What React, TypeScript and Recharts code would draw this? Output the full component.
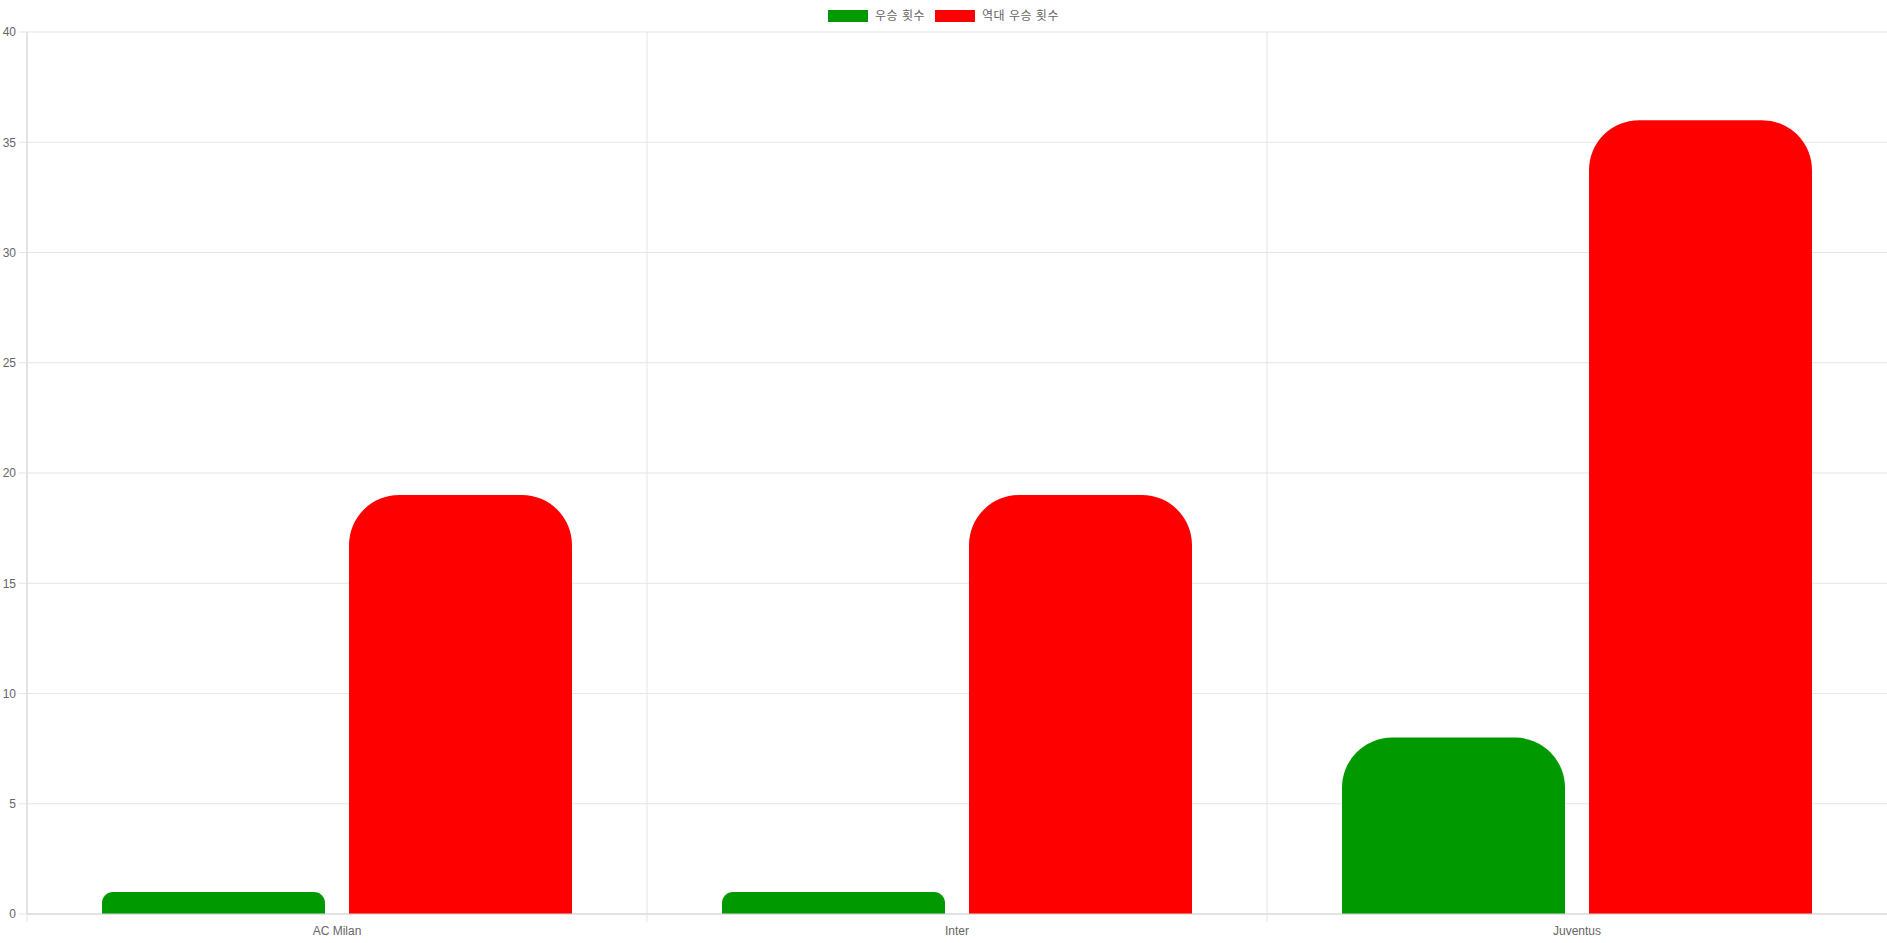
import React from 'react';
import { BarChart, Bar, XAxis, YAxis, CartesianGrid, Legend } from 'recharts';

const teams = ['AC Milan', 'Inter', 'Juventus'];
const recentWins = [1, 1, 8];
const allTimeWins = [19, 19, 36];
const seriesNames = ['우승 횟수', '역대 우승 횟수'];
const seriesColors = ['#009900', '#ff0000'];
const yTicks = [0, 5, 10, 15, 20, 25, 30, 35, 40];

const data = teams.map((t, i) => ({ team: t, a: recentWins[i], b: allTimeWins[i] }));
const gridIdx = teams.map((_, i) => i);

const FONT = "'Liberation Sans', Arial, 'Noto Sans CJK KR', sans-serif";
const GRID = '#e5e5e5';
const AXIS = '#d4d4d4';

const LegendContent = () => (
  <div style={{ display: 'flex', justifyContent: 'center', alignItems: 'center', fontFamily: FONT, fontSize: 12, color: '#666' }}>
    {seriesNames.map((n, i) => (
      <div key={n} style={{ display: 'flex', alignItems: 'center', marginRight: i === 0 ? 10 : 0 }}>
        <div style={{ width: 40, height: 12, background: seriesColors[i], marginRight: 7 }} />
        <span style={{ lineHeight: '12px', letterSpacing: '0.5px' }}>{n}</span>
      </div>
    ))}
  </div>
);

const XTick = (props: any) => {
  const { x, y, payload, width } = props;
  const band = width / teams.length;
  const top = y - 12;
  return (
    <g>
      <line x1={x - band / 2} x2={x - band / 2} y1={top} y2={top + 8} stroke={GRID} />
      <text x={x} y={y} dy="0.71em" textAnchor="middle" fill="#666" fontSize={12} fontFamily={FONT}>
        {payload.value}
      </text>
    </g>
  );
};

export default function App() {
  return (
    <div style={{ position: 'absolute', left: 0, top: 0 }}>
      <BarChart width={1887} height={943} data={data} margin={{ top: 32, right: 0, left: 0, bottom: 0 }} barSize={223} barGap={24}>
        <XAxis dataKey="team" height={29} tickLine={false} tickSize={8} tickMargin={4} axisLine={{ stroke: AXIS }} tick={<XTick />} interval={0} />
        <YAxis domain={[0, 40]} ticks={yTicks} width={27} tickSize={8} tickMargin={3} tickLine={{ stroke: GRID }} axisLine={{ stroke: AXIS }} tick={{ fill: '#666', fontSize: 12, fontFamily: FONT }} />
        <CartesianGrid
          stroke={GRID}
          verticalCoordinatesGenerator={({ offset }: any) => gridIdx.map((i) => offset.left + (i * offset.width) / teams.length)}
        />
        <Legend layout="horizontal" verticalAlign="middle" align="center" wrapperStyle={{ top: 10, left: 0, width: 1887 }} content={<LegendContent />} />
        <Bar dataKey="a" name={seriesNames[0]} fill={seriesColors[0]} radius={[50, 50, 0, 0]} isAnimationActive={false} />
        <Bar dataKey="b" name={seriesNames[1]} fill={seriesColors[1]} radius={[50, 50, 0, 0]} isAnimationActive={false} />
      </BarChart>
    </div>
  );
}
